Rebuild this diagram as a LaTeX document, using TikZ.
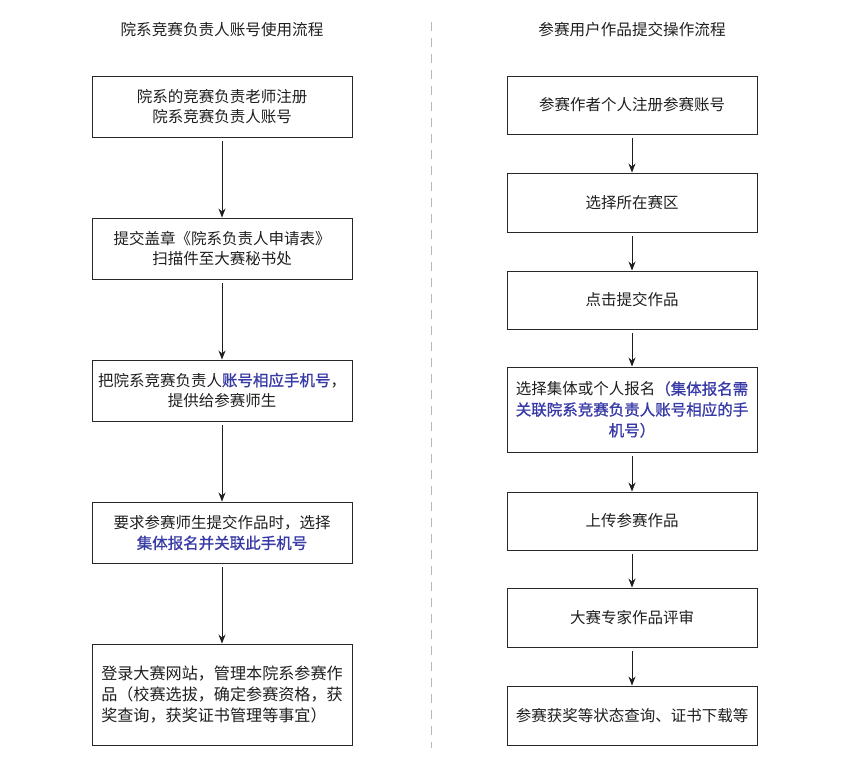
\documentclass[tikz,border=0pt]{standalone}
\usepackage{fontspec}
\setmainfont{Noto Sans CJK SC}
\newfontfamily\heavycjk[FakeBold=1.1]{Noto Sans CJK SC}
\usetikzlibrary{arrows.meta,positioning}
\definecolor{ink}{RGB}{30,30,30}
\definecolor{frame}{RGB}{40,40,40}
\definecolor{linkblue}{RGB}{56,58,165}
\definecolor{rule}{RGB}{185,185,185}
\tikzset{
  >={Stealth[length=9pt,width=7pt]},
  stagebox/.style={draw=frame,line width=0.9pt,minimum width=#1,align=center,
    text=ink,font=\fontsize{15.5}{20.8}\selectfont,inner sep=0pt},
  stagebox/.default=260pt,
  title/.style={text=ink,font=\fontsize{15.6}{20}\selectfont},
  flow/.style={->,line width=1pt,draw=ink,shorten <=4pt},
  divider/.style={draw=rule,line width=1pt,dash pattern=on 9pt off 7pt},
}
\newcommand{\hl}[1]{\textcolor{linkblue}{\heavycjk #1}}
\begin{document}
\begin{tikzpicture}[x=1pt,y=-1pt]
    \useasboundingbox (0,0) rectangle (854,765);
    % column titles
    \node[title] (tleft) at (222,30) {院系竞赛负责人账号使用流程};
    \node[title] (tright) at (632,30) {参赛用户作品提交操作流程};
    \draw[divider] (431,22) -- (431,748);
    % left column: department account
    \node[stagebox,minimum height=61pt] (l1) at (222,106.5) {院系的竞赛负责老师注册\\院系竞赛负责人账号};
    \node[stagebox,minimum height=61pt] (l2) at (222,248.5) {提交盖章《院系负责人申请表》\\扫描件至大赛秘书处};
    \node[stagebox,minimum height=61pt] (l3) at (222,390.5) {把院系竞赛负责人\hl{账号相应手机号}，\\提供给参赛师生};
    \node[stagebox,minimum height=61pt] (l4) at (222,532.5) {要求参赛师生提交作品时，选择\\\hl{集体报名并关联此手机号}};
    \node[stagebox,minimum height=101pt,align=left,font=\fontsize{16.1}{21}\selectfont] (l5) at (222,694.5) {登录大赛网站，管理本院系参赛作\\品（校赛选拔，确定参赛资格，获\\奖查询，获奖证书管理等事宜）};
    \foreach \a/\b in {l1/l2,l2/l3,l3/l4,l4/l5} \draw[flow] (\a) -- (\b);
    % right column: entrant submission
    \node[stagebox=250pt,minimum height=58pt] (r1) at (632,105) {参赛作者个人注册参赛账号};
    \node[stagebox=250pt,minimum height=59pt] (r2) at (632,202.5) {选择所在赛区};
    \node[stagebox=250pt,minimum height=58pt] (r3) at (632,300) {点击提交作品};
    \node[stagebox=250pt,minimum height=85pt] (r4) at (632,409.5) {选择集体或个人报名\hl{（集体报名需}\\\hl{关联院系竞赛负责人账号相应的手}\\\hl{机号）}};
    \node[stagebox=250pt,minimum height=58pt] (r5) at (632,521) {上传参赛作品};
    \node[stagebox=250pt,minimum height=59pt] (r6) at (632,617.5) {大赛专家作品评审};
    \node[stagebox=250pt,minimum height=59pt] (r7) at (632,715.5) {参赛获奖等状态查询、证书下载等};
    \foreach \a/\b in {r1/r2,r2/r3,r3/r4,r4/r5,r5/r6,r6/r7} \draw[flow] (\a) -- (\b);
\end{tikzpicture}
\end{document}
